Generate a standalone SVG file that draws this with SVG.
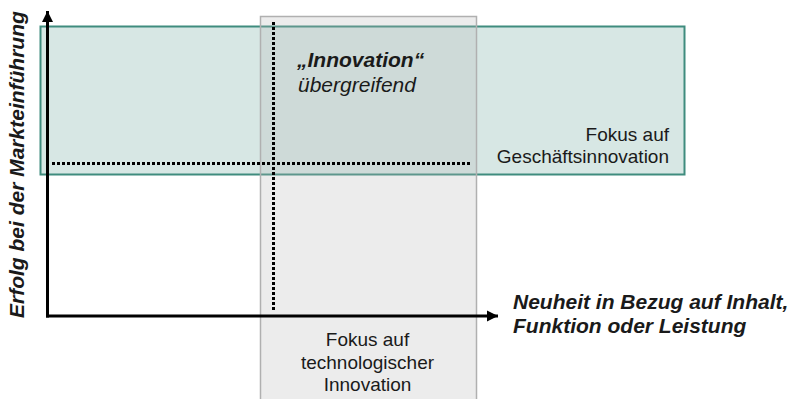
<svg xmlns="http://www.w3.org/2000/svg" width="795" height="399" viewBox="0 0 795 399">
  <style>
    .txt { font-family: "Liberation Sans", Arial, sans-serif; fill: #1a1a1a; }
    .reg { font-size: 19px; }
    .axis-label { font-size: 21px; font-weight: bold; font-style: italic; }
    .axis { stroke: #000; stroke-width: 3; fill: none; }
    .dots { stroke: #000; stroke-width: 3; stroke-dasharray: 3 2; fill: none; }
  </style>
  <defs>
    <marker id="arrowhead" markerUnits="userSpaceOnUse" markerWidth="12" markerHeight="12" refX="11" refY="6" orient="auto">
      <path d="M0,0.5 L11,6 L0,11.5 Z" fill="#000"/>
    </marker>
  </defs>
  <rect width="795" height="399" fill="#fff"/>

  <!-- business innovation band -->
  <g id="business-focus">
    <rect x="40.5" y="26.5" width="644" height="148" fill="#d7e7e4" stroke="#3f8c7e" stroke-width="2"/>
    <text class="txt reg" x="669" y="141" text-anchor="end">Fokus auf</text>
    <text class="txt reg" x="669" y="163" text-anchor="end">Geschäftsinnovation</text>
  </g>

  <!-- technology innovation column -->
  <g id="technology-focus">
    <rect x="260.5" y="16.5" width="216" height="400" fill="#b4b4b4" fill-opacity="0.26" stroke="#b0b0b0" stroke-width="1.5"/>
    <text class="txt reg" x="367.5" y="346" text-anchor="middle">Fokus auf</text>
    <text class="txt reg" x="367.5" y="368.5" text-anchor="middle">technologischer</text>
    <text class="txt reg" x="367.5" y="391" text-anchor="middle">Innovation</text>
  </g>

  <!-- overlap label -->
  <g id="overall-innovation">
    <text class="txt" x="297" y="66.5" font-size="21" font-weight="bold" font-style="italic">„Innovation“</text>
    <text class="txt" x="298" y="91.5" font-size="21" font-style="italic">übergreifend</text>
  </g>

  <!-- axes and guide lines -->
  <g id="connectors">
    <line class="dots" x1="52" y1="163.5" x2="472" y2="163.5"/>
    <line class="dots" x1="273.5" y1="22" x2="273.5" y2="312"/>
    <line class="axis" x1="47.5" y1="317.5" x2="47.5" y2="11" marker-end="url(#arrowhead)"/>
    <line class="axis" x1="46" y1="316" x2="498" y2="316" marker-end="url(#arrowhead)"/>
  </g>

  <g id="x-axis-label">
    <text class="txt axis-label" x="513" y="309">Neuheit in Bezug auf Inhalt,</text>
    <text class="txt axis-label" x="513" y="333">Funktion oder Leistung</text>
  </g>

  <g id="y-axis-label">
    <text class="txt axis-label" transform="translate(24,318) rotate(-90)" x="0" y="0">Erfolg bei der Markteinführung</text>
  </g>
</svg>
